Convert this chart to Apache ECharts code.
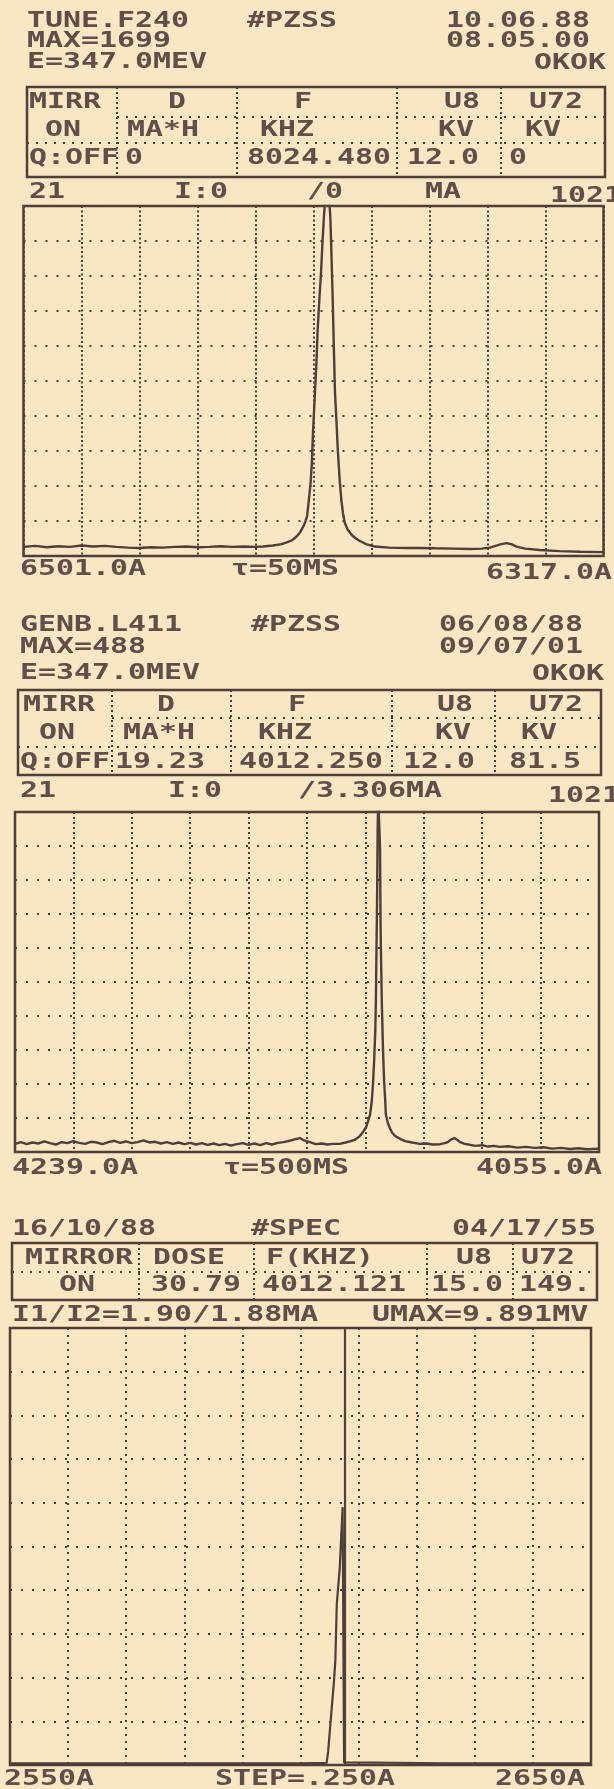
<!DOCTYPE html>
<html>
<head>
<meta charset="utf-8">
<title>Spectrum printouts</title>
<script src="https://cdn.jsdelivr.net/npm/echarts@6/dist/echarts.min.js"></script>
<style>
html, body { margin: 0; padding: 0; background: #f9e6c3; }
#main { width: 614px; height: 1789px; }
</style>
</head>
<body>
<div id="main"></div>
<script>
// ---- values ----
// panels 1 and 2: x = channel - 21 (channels 21..1021), y = % of full scale
var tuneTrace = [
  [0, 2.6], [20, 2.9], [40, 2.5], [60, 2.8], [80, 2.6], [100, 3.0], [120, 2.7], [140, 2.9],
  [160, 2.6], [180, 2.4], [200, 2.3], [220, 2.5], [240, 2.4], [260, 2.6], [280, 2.7], [300, 2.5],
  [320, 2.6], [340, 2.8], [360, 2.6], [380, 2.7], [400, 2.6], [413, 2.7], [430, 3.0], [445, 3.4],
  [454, 3.9], [463, 4.5], [471, 5.6], [477, 6.8], [482, 8.3], [486, 9.8], [489, 11.5], [492, 16],
  [495, 21], [497, 26], [499, 35], [502, 45], [505, 55], [507, 64], [510, 73], [513, 81],
  [515, 88], [518, 97], [521, 104], [526, 104], [529, 97], [531, 86], [533, 74], [535, 60],
  [537, 47], [540, 37], [542, 30], [545, 22], [548, 16], [551, 12], [554, 9.4], [559, 7.5],
  [566, 6], [573, 5], [580, 4.3], [592, 3.3], [606, 2.7], [630, 2.4], [660, 2.3], [684, 2.3],
  [710, 2.2], [740, 2.1], [770, 2.0], [790, 2.1], [804, 2.4], [814, 2.9], [822, 3.3], [833, 3.7],
  [842, 3.3], [850, 2.7], [865, 2.1], [890, 1.7], [925, 1.4], [960, 1.2], [1000, 1.1]
];
var genbTrace = [
  [0, 2.4], [10, 2.9], [20, 2.3], [30, 2.8], [40, 2.5], [50, 3.1], [60, 2.6], [70, 2.2],
  [80, 2.9], [90, 2.6], [100, 3.2], [110, 2.7], [120, 2.4], [130, 3.0], [140, 2.8], [150, 2.3],
  [160, 2.9], [170, 3.3], [180, 2.7], [190, 3.1], [200, 2.6], [210, 2.9], [220, 3.4], [230, 2.8],
  [240, 3.0], [250, 2.5], [260, 2.9], [270, 2.4], [280, 2.8], [290, 2.3], [300, 2.7], [310, 2.2],
  [320, 2.6], [330, 2.1], [340, 2.5], [350, 2.0], [360, 2.4], [370, 1.9], [380, 2.3], [390, 2.6],
  [400, 2.1], [410, 2.5], [420, 2.0], [430, 2.6], [440, 2.2], [450, 2.7], [460, 2.9], [470, 3.3],
  [480, 3.8], [488, 4.1], [495, 3.4], [505, 2.9], [515, 2.3], [525, 2.5], [535, 2.2], [545, 2.4],
  [556, 2.4], [566, 2.8], [575, 3.2], [582, 3.6], [590, 4.6], [596, 5.9], [601, 7.2], [604, 8.8],
  [608, 11], [611, 15], [613, 20], [615, 27], [617, 36], [618, 45], [619, 60], [620, 74],
  [621, 95], [622, 104], [624, 104], [625, 90], [626, 66], [627, 55], [628, 45], [630, 31],
  [632, 21], [634, 15], [635, 11], [638, 8.8], [642, 7], [646, 5.6], [651, 4.7], [660, 3.8],
  [668, 3.2], [680, 2.8], [693, 2.4], [705, 2.5], [715, 2.2], [728, 2.3], [736, 2.6], [741, 2.9],
  [746, 3.6], [752, 4.1], [757, 3.6], [762, 2.9], [770, 2.4], [780, 2.1], [788, 1.8], [800, 2.0],
  [810, 1.6], [820, 1.8], [830, 1.5], [845, 1.7], [860, 1.3], [875, 1.5], [890, 1.2], [905, 1.4],
  [920, 1.0], [935, 1.2], [950, 0.9], [965, 1.1], [980, 0.8], [1000, 1.0]
];
// panel 3: x = wavelength (A), y = % of UMAX
var specTrace = [
  [2550, 0.4], [2575, 0.4], [2600, 0.4], [2604.5, 0.5], [2604.75, 3], [2605, 7], [2605.25, 11],
  [2605.5, 15], [2605.75, 19], [2606, 24], [2606.25, 37], [2606.5, 41], [2606.75, 45],
  [2607, 52], [2607.25, 59], [2607.5, 0.6], [2607.75, 0.4], [2625, 0.4], [2650, 0.4]
];
var specCursor = 2607.6;

var tuneText = ['TUNE.F240', '#PZSS', '10.06.88', 'MAX=1699', '08.05.00', 'E=347.0MEV', 'OKOK',
  'MIRR', 'D', 'F', 'U8', 'U72', 'ON', 'MA*H', 'KHZ', 'KV', 'KV',
  'Q:OFF', '0', '8024.480', '12.0', '0',
  '21', 'I:0', '/0', 'MA', '1021', '6501.0A', 'τ=50MS', '6317.0A'];
var genbText = ['GENB.L411', '#PZSS', '06/08/88', 'MAX=488', '09/07/01', 'E=347.0MEV', 'OKOK',
  'MIRR', 'D', 'F', 'U8', 'U72', 'ON', 'MA*H', 'KHZ', 'KV', 'KV',
  'Q:OFF', '19.23', '4012.250', '12.0', '81.5',
  '21', 'I:0', '/3.306MA', '1021', '4239.0A', 'τ=500MS', '4055.0A'];
var specText = ['16/10/88', '#SPEC', '04/17/55',
  'MIRROR', 'DOSE', 'F(KHZ)', 'U8', 'U72', 'ON', '30.79', '4012.121', '15.0', '149.',
  'I1/I2=1.90/1.88MA', 'UMAX=9.891MV', '2550A', 'STEP=.250A', '2650A'];

// ---- layout ----
var ink = '#4e3f3b';
var textInk = '#5f4e4a';

var tunePos = [[27, 21], [247, 21], [446, 21], [27, 41], [446, 41], [27, 62], [534, 63],
  [29, 102], [168, 102], [294, 102], [444, 102], [529, 102],
  [45, 130], [127, 130], [260, 130], [438, 130], [525, 130],
  [29, 158], [125, 158], [247, 158], [407, 158], [509, 158],
  [29, 192], [174, 192], [307, 192], [425, 192], [550, 196],
  [20, 569], [231, 569], [486, 573]];
var genbPos = [[20, 625], [251, 625], [439, 625], [20, 647], [439, 647], [20, 673], [532, 674],
  [23, 705], [157, 705], [288, 705], [437, 705], [529, 705],
  [39, 733], [123, 733], [258, 733], [435, 733], [521, 733],
  [20, 762], [115, 762], [239, 762], [403, 762], [509, 762],
  [20, 791], [168, 791], [298, 791], [548, 796],
  [12, 1168], [223, 1168], [476, 1168]];
var specPos = [[12, 1229], [251, 1229], [452, 1229],
  [25, 1258], [153, 1258], [266, 1258], [456, 1258], [521, 1258],
  [59, 1285], [151, 1285], [262, 1285], [431, 1285], [519, 1285],
  [12, 1315], [372, 1315], [4, 1779], [215, 1779], [495, 1779]];

var graphics = [];

function addText(list, pos) {
  list.forEach(function (s, i) {
    graphics.push({
      type: 'text', x: pos[i][0], y: pos[i][1], scaleX: 1.36, silent: true,
      style: { text: s, font: 'bold 22px "DejaVu Sans Mono"', fill: textInk, verticalAlign: 'middle' }
    });
  });
}

function dotLine(x1, y1, x2, y2, dash) {
  graphics.push({
    type: 'line', silent: true,
    shape: { x1: x1, y1: y1, x2: x2, y2: y2 },
    style: { stroke: ink, lineWidth: 2, lineDash: dash }
  });
}

// table: box, column separators, row separators [y, xStart]
function table(x, y, w, h, cols, rows) {
  cols.forEach(function (cx) { dotLine(cx, y, cx, y + h, [2, 3]); });
  rows.forEach(function (r) { dotLine(r[1], r[0], x + w, r[0], [2, 7]); });
  graphics.push({
    type: 'rect', silent: true,
    shape: { x: x, y: y, width: w, height: h },
    style: { fill: 'none', stroke: ink, lineWidth: 2.5 }
  });
}

table(27, 87, 578, 90, [117, 237, 397, 501], [[117, 117], [143, 27]]);
table(18, 690, 583, 85, [112, 231, 392, 495], [[718, 112], [747, 18]]);
table(12, 1243, 585, 57, [139, 254, 427, 513], [[1272, 12]]);

addText(tuneText, tunePos);
addText(genbText, genbPos);
addText(specText, specPos);

var grids = [
  { left: 23.5, top: 206, width: 580, height: 350 },
  { left: 15, top: 812, width: 584, height: 340 },
  { left: 10, top: 1328, width: 581, height: 437 }
].map(function (g) {
  g.show = true;
  g.borderColor = ink;
  g.borderWidth = 2.5;
  g.backgroundColor = 'transparent';
  return g;
});

function xAx(i, min, max, interval, dash) {
  return {
    type: 'value', gridIndex: i, min: min, max: max, interval: interval,
    axisLine: { show: false }, axisTick: { show: false }, axisLabel: { show: false },
    splitLine: { show: true, lineStyle: { color: ink, width: 2, type: dash } }
  };
}
function yAx(i) {
  return {
    type: 'value', gridIndex: i, min: 0, max: 100, interval: 10,
    axisLine: { show: false }, axisTick: { show: false }, axisLabel: { show: false },
    splitLine: { show: true, lineStyle: { color: ink, width: 2, type: [2, 9] } }
  };
}

function trace(i, data, w) {
  return {
    type: 'line', xAxisIndex: i, yAxisIndex: i, data: data,
    symbol: 'none', clip: true, silent: true,
    lineStyle: { color: ink, width: w }
  };
}

var chart = echarts.init(document.getElementById('main'));
var specSeries = trace(2, specTrace, 2.2);
specSeries.markLine = {
  symbol: 'none', silent: true, label: { show: false },
  lineStyle: { color: ink, width: 2.2, type: 'solid' },
  data: [{ xAxis: specCursor }]
};

chart.setOption({
  backgroundColor: '#f9e6c3',
  animation: false,
  grid: grids,
  xAxis: [xAx(0, 0, 1000, 100, [2, 2.5]), xAx(1, 0, 1000, 100, [2, 3]), xAx(2, 2550, 2650, 10, [2, 5])],
  yAxis: [yAx(0), yAx(1), yAx(2)],
  series: [trace(0, tuneTrace, 2.4), trace(1, genbTrace, 2.4), specSeries],
  graphic: graphics
});
</script>
</body>
</html>
